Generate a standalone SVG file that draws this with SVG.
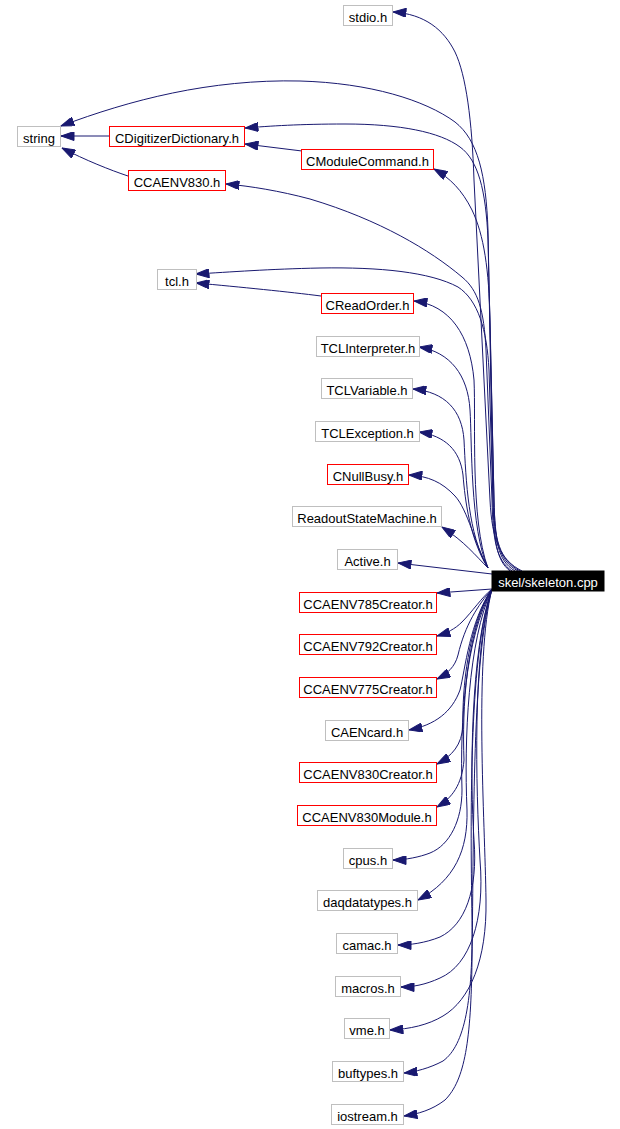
<svg xmlns="http://www.w3.org/2000/svg" width="620" height="1129" viewBox="0 0 620 1129">
<style>
.n rect{fill:#fff;stroke:#bfbfbf;stroke-width:1}
.n.r rect{stroke:#ff0000}
.n text{font-family:"Liberation Sans",Arial,sans-serif;font-size:13px;fill:#000;text-anchor:middle}
#skeleton rect{fill:#000;stroke:#000}
#skeleton text{fill:#fff}
#edges path{fill:none;stroke:#191970;stroke-width:1;marker-end:url(#ah)}
</style>
<defs>
<marker id="ah" markerUnits="userSpaceOnUse" markerWidth="14" markerHeight="9" viewBox="0 0 13 9" refX="13" refY="4.5" orient="auto">
<path d="M0,0 L13,4.5 L0,9 z" fill="#191970" stroke="#191970" stroke-width="1"/>
</marker>
</defs>
<rect width="620" height="1129" fill="#fff"/>
<g id="edges">
<path d="M522,571 C500,560 492,540 490,500 L474,180 C472,120 466,75 455,52 C444,30 425,14 393,12"/>
<path d="M520,571 C500,560 494,540 493,500 L488,230 C486,175 478,140 455,122 C425,100 370,83 300,81 C210,79 130,100 61,126"/>
<path d="M518,571 C498,560 495,540 494,500 L488,240 C486,190 478,160 460,147 C440,132 400,124 345,124 C300,124 270,126 245,128"/>
<path d="M515,571 C497,560 495,540 494,500 L490,320 C489,270 484,235 472,210 C462,190 450,178 434,169"/>
<path d="M512,571 C496,560 493,540 492,500 L486,350 C484,310 478,290 462,277 C430,250 380,220 310,199 C280,191 250,186 226,184"/>
<path d="M510,571 C496,560 494,540 493,500 L489,370 C487,330 478,300 458,287 C430,272 380,267 320,268 C270,269 230,272 196,274"/>
<path d="M488,568 C470,520 476,420 474,380 C470,335 450,305 414,301"/>
<path d="M488,568 C470,530 472,440 470,410 C468,375 450,352 419,347"/>
<path d="M488,568 C468,535 466,480 464,440 C462,410 445,392 413,389"/>
<path d="M488,568 C470,540 465,500 463,475 C460,450 445,436 419,432"/>
<path d="M488,568 C475,545 468,510 455,496 C442,482 428,476 409,475"/>
<path d="M488,568 C475,555 465,542 442,527"/>
<path d="M492,574 L398,563"/>
<path d="M492,589 L437,593"/>
<path d="M492,589 C482,597 472,612 462,622 C455,629 447,633 437,636"/>
<path d="M492,589 C478,605 465,625 458,655 C455,667 447,674 437,679"/>
<path d="M492,589 C470,620 465,670 460,690 C452,712 435,725 409,730"/>
<path d="M492,589 C468,625 462,690 463,725 C462,745 452,756 437,764"/>
<path d="M492,589 C466,630 462,710 464,760 C462,785 452,798 437,807"/>
<path d="M492,589 C465,640 460,720 462,790 C462,820 450,845 430,853 C420,857 405,860 393,860"/>
<path d="M492,589 C468,640 464,740 467,810 C468,850 455,880 418,900"/>
<path d="M492,589 C470,650 470,780 474,840 C478,890 465,925 440,937 C425,943 410,945 398,945"/>
<path d="M492,589 C472,650 476,790 480,860 C485,920 470,965 440,978 C425,985 412,987 401,987"/>
<path d="M492,589 C474,660 485,820 486,900 C487,960 470,1000 443,1016 C428,1025 410,1029 390,1030"/>
<path d="M492,589 C470,650 470,800 472,920 C473,1000 465,1045 443,1061 C430,1068 415,1072 404,1073"/>
<path d="M492,589 C472,660 474,820 472,960 C471,1040 465,1080 445,1100 C432,1110 418,1114 404,1116"/>
<path d="M109,136 L61,136"/>
<path d="M128,176 C110,170 85,160 62,148"/>
<path d="M302,151 L245,144"/>
<path d="M321,296 C290,292 240,287 196,283"/>
</g>
<g id="stdio" class="n"><rect x="343.5" y="5.5" width="49" height="20"/><text x="368" y="21.5">stdio.h</text></g>
<g id="string" class="n"><rect x="17.5" y="126.5" width="43" height="20"/><text x="39" y="142.5">string</text></g>
<g id="CDigitizerDictionary" class="n r"><rect x="109.5" y="126.5" width="135" height="20"/><text x="177" y="142.5">CDigitizerDictionary.h</text></g>
<g id="CModuleCommand" class="n r"><rect x="301.5" y="149.5" width="132" height="20"/><text x="367.5" y="165.5">CModuleCommand.h</text></g>
<g id="CCAENV830" class="n r"><rect x="128.5" y="170.5" width="97" height="20"/><text x="177" y="186.5">CCAENV830.h</text></g>
<g id="tcl" class="n"><rect x="157.5" y="269.5" width="39" height="20"/><text x="177" y="285.5">tcl.h</text></g>
<g id="CReadOrder" class="n r"><rect x="321.5" y="293.5" width="92" height="20"/><text x="367.5" y="309.5">CReadOrder.h</text></g>
<g id="TCLInterpreter" class="n"><rect x="316.5" y="336.5" width="103" height="20"/><text x="368" y="352.5">TCLInterpreter.h</text></g>
<g id="TCLVariable" class="n"><rect x="321.5" y="378.5" width="91" height="20"/><text x="367" y="394.5">TCLVariable.h</text></g>
<g id="TCLException" class="n"><rect x="315.5" y="421.5" width="104" height="20"/><text x="367.5" y="437.5">TCLException.h</text></g>
<g id="CNullBusy" class="n r"><rect x="327.5" y="464.5" width="81" height="20"/><text x="368" y="480.5">CNullBusy.h</text></g>
<g id="ReadoutStateMachine" class="n"><rect x="292.5" y="506.5" width="149" height="20"/><text x="367" y="522.5">ReadoutStateMachine.h</text></g>
<g id="Active" class="n"><rect x="337.5" y="549.5" width="60" height="20"/><text x="367.5" y="565.5">Active.h</text></g>
<g id="skeleton" class="n"><rect x="492" y="571" width="112" height="20"/><text x="548" y="587">skel/skeleton.cpp</text></g>
<g id="CCAENV785Creator" class="n r"><rect x="299.5" y="592.5" width="137" height="20"/><text x="368" y="608.5">CCAENV785Creator.h</text></g>
<g id="CCAENV792Creator" class="n r"><rect x="299.5" y="634.5" width="137" height="20"/><text x="368" y="650.5">CCAENV792Creator.h</text></g>
<g id="CCAENV775Creator" class="n r"><rect x="299.5" y="677.5" width="137" height="20"/><text x="368" y="693.5">CCAENV775Creator.h</text></g>
<g id="CAENcard" class="n"><rect x="325.5" y="720.5" width="83" height="20"/><text x="367" y="736.5">CAENcard.h</text></g>
<g id="CCAENV830Creator" class="n r"><rect x="299.5" y="762.5" width="137" height="20"/><text x="368" y="778.5">CCAENV830Creator.h</text></g>
<g id="CCAENV830Module" class="n r"><rect x="297.5" y="805.5" width="139" height="20"/><text x="367" y="821.5">CCAENV830Module.h</text></g>
<g id="cpus" class="n"><rect x="343.5" y="848.5" width="49" height="20"/><text x="368" y="864.5">cpus.h</text></g>
<g id="daqdatatypes" class="n"><rect x="317.5" y="890.5" width="100" height="20"/><text x="367.5" y="906.5">daqdatatypes.h</text></g>
<g id="camac" class="n"><rect x="336.5" y="933.5" width="61" height="20"/><text x="367" y="949.5">camac.h</text></g>
<g id="macros" class="n"><rect x="335.5" y="976.5" width="65" height="20"/><text x="368" y="992.5">macros.h</text></g>
<g id="vme" class="n"><rect x="344.5" y="1018.5" width="45" height="20"/><text x="367" y="1034.5">vme.h</text></g>
<g id="buftypes" class="n"><rect x="332.5" y="1061.5" width="71" height="20"/><text x="368" y="1077.5">buftypes.h</text></g>
<g id="iostream" class="n"><rect x="331.5" y="1104.5" width="72" height="20"/><text x="367.5" y="1120.5">iostream.h</text></g>
</svg>
